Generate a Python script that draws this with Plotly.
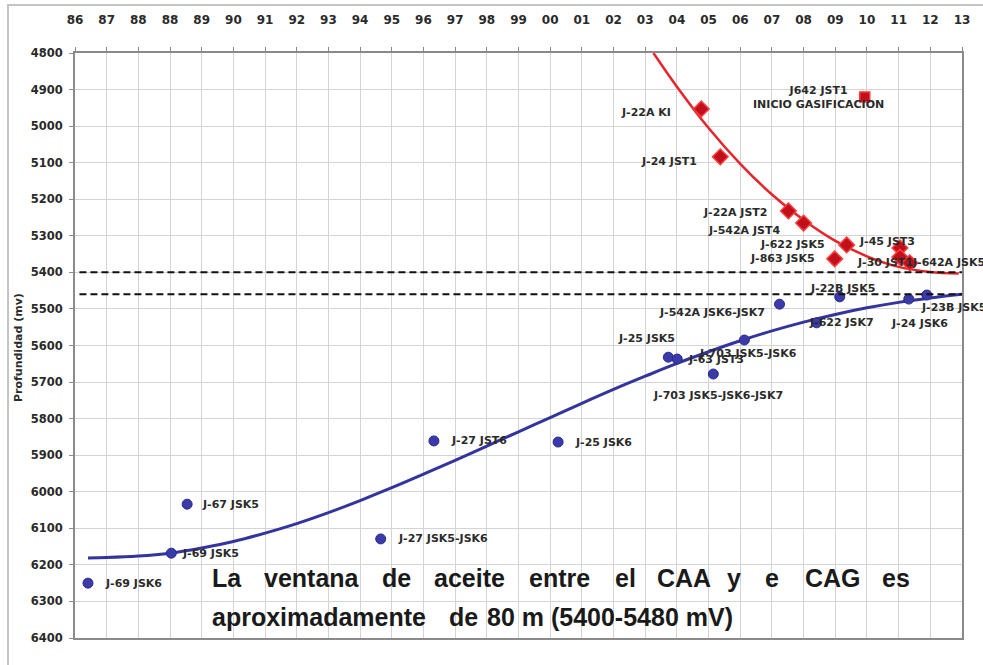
import plotly.graph_objects as go

# ---------------- data ----------------
tick_labels = ["86", "87", "88", "88", "89", "90", "91", "92", "93", "94", "95", "96", "97", "98",
               "99", "00", "01", "02", "03", "04", "05", "06", "07", "08", "09", "10", "11", "12", "13"]
y_ticks = list(range(4800, 6401, 100))

blue_names = ["J-69 JSK6", "J-69 JSK5", "J-67 JSK5", "J-27 JSK5-JSK6", "J-27 JST6", "J-25 JSK6",
              "J-25 JSK5", "J-63 JST3", "J-703 JSK5-JSK6", "J-703 JSK5-JSK6-JSK7",
              "J-542A JSK6-JSK7", "J-22B JSK5", "J-622 JSK7", "J-24 JSK6", "J-23B JSK5"]
blue_x = [0.41, 3.04, 3.54, 9.65, 11.33, 15.25, 18.73, 19.01, 21.13, 20.15, 22.24, 24.14, 23.41, 26.32, 26.89]
blue_y = [6250, 6168, 6034, 6129, 5861, 5864, 5632, 5637, 5585, 5678, 5487, 5467, 5538, 5473, 5462]

red_names = ["J-22A KI", "J-24 JST1", "J-22A JST2", "J-542A JST4", "J-622 JSK5", "J-863 JSK5",
             "J-45 JST3", "J-30 JST1", "J-642A JSK5-JSK6"]
red_x = [19.77, 20.37, 22.52, 23.0, 24.36, 23.98, 26.04, 26.04, 26.35]
red_y = [4953, 5084, 5232, 5265, 5325, 5363, 5333, 5358, 5374]

gas_name = ["J642 JST1<br>INICIO GASIFICACION"]
gas_x = [24.93]
gas_y = [4920]

blue_trend_x = [0.41, 1, 2, 3, 4, 5, 6, 7, 8, 9, 10, 11, 12, 13, 14, 15, 16, 17, 18, 19, 20,
                21, 22, 23, 24, 25, 26, 27, 28]
blue_trend_y = [6181, 6180, 6176, 6168, 6154, 6136, 6113, 6087, 6057, 6024, 5989, 5952, 5914,
                5875, 5836, 5797, 5758, 5720, 5684, 5649, 5617, 5587, 5560, 5536, 5515, 5497,
                5482, 5470, 5460]

red_trend_x = [18.26, 19, 20, 21, 22, 23, 24, 25, 26, 27, 27.9]
red_trend_y = [4800, 4892, 5005, 5103, 5187, 5257, 5314, 5356, 5385, 5399, 5403]

caa_level = 5400
cag_level = 5460

# label offsets (pixels): (xanchor, xshift, yshift)
blue_label_pos = [("left", 15, 0), ("left", 9, 0), ("left", 13, 0), ("left", 15, 0), ("left", 15, 0),
                  ("left", 15, 0), ("center", -22, 19), ("left", 9, 0), ("center", 4, -13),
                  ("center", 5, -21), ("right", -13, -8), ("center", 3, 8), ("left", -10, 0),
                  ("center", 11, -24), ("left", -8, -12)]
red_label_pos = [("right", -28, -4), ("right", -21, -5), ("right", -19, -2), ("right", -22, -7),
                 ("right", -20, 0), ("right", -18, 0), ("left", -43, 6), ("left", -45, -5),
                 ("left", 0, 0)]
gas_label_pos = [("center", -46, -1)]

line1_words = ["La", "ventana", "de", "aceite", "entre", "el", "CAA", "y", "e", "CAG", "es"]
line1_px = [210, 262, 380, 432, 527, 613, 655, 725, 763, 803, 880]
line2_words = ["aproximadamente", "de", "80 m (5400-5480 mV)"]
line2_px = [210, 447, 485]

# ---------------- layout geometry ----------------
W, H = 983, 665
L, R, T, B = 75, 21, 53, 27
PW, PH = W - L - R, H - T - B


def px_x(px):
    return (px - L) / PW


def px_y(py):
    return (H - B - py) / PH


BLUE = "#34349e"
RED_LINE = "#e8242a"
RED_FILL = "#c0101c"
LABEL_FONT = dict(family="DejaVu Sans", size=11, color="#2a2a2a", weight="bold")

fig = go.Figure()

fig.add_trace(go.Scatter(x=blue_trend_x, y=blue_trend_y, mode="lines", line_shape="spline",
                         line=dict(color=BLUE, width=3), hoverinfo="skip", showlegend=False))
fig.add_trace(go.Scatter(x=red_trend_x, y=red_trend_y, mode="lines", line_shape="spline",
                         line=dict(color=RED_LINE, width=2.5), hoverinfo="skip", showlegend=False))

fig.add_trace(go.Scatter(x=blue_x, y=blue_y, mode="markers", text=blue_names,
                         marker=dict(symbol="circle", size=10, color="#3a3aa8",
                                     line=dict(color="#2a2a90", width=1)),
                         showlegend=False))
fig.add_trace(go.Scatter(x=red_x, y=red_y, mode="markers", text=red_names,
                         marker=dict(symbol="diamond", size=12, color=RED_FILL,
                                     line=dict(color="#ff3a3a", width=1.5)),
                         showlegend=False))
fig.add_trace(go.Scatter(x=gas_x, y=gas_y, mode="markers", text=gas_name,
                         marker=dict(symbol="square", size=10, color=RED_FILL,
                                     line=dict(color="#ff3a3a", width=1.5)),
                         showlegend=False))

annotations = []
for names, xs, ys, pos in [(blue_names, blue_x, blue_y, blue_label_pos),
                           (red_names, red_x, red_y, red_label_pos),
                           (gas_name, gas_x, gas_y, gas_label_pos)]:
    for n, x, y, (anc, dx, dy) in zip(names, xs, ys, pos):
        annotations.append(dict(x=x, y=y, xref="x", yref="y", text=n, showarrow=False,
                                xanchor=anc, yanchor="middle", xshift=dx, yshift=dy,
                                font=LABEL_FONT))

BIG_FONT = dict(family="Liberation Sans", size=25, color="#1a1a1a", weight="bold")
for w, px in zip(line1_words, line1_px):
    annotations.append(dict(x=px_x(px), y=px_y(578), xref="paper", yref="paper", text=w,
                            showarrow=False, xanchor="left", yanchor="middle", font=BIG_FONT))
for w, px in zip(line2_words, line2_px):
    annotations.append(dict(x=px_x(px), y=px_y(617), xref="paper", yref="paper", text=w,
                            showarrow=False, xanchor="left", yanchor="middle", font=BIG_FONT))

annotations.append(dict(x=px_x(18), y=px_y(348), xref="paper", yref="paper",
                        text="Profundidad (mv)", textangle=-90, showarrow=False,
                        xanchor="center", yanchor="middle",
                        font=dict(family="DejaVu Sans", size=11, color="#2a2a2a", weight="bold")))

shapes = []
for lvl in (caa_level, cag_level):
    shapes.append(dict(type="line", xref="paper", yref="y", x0=0.005, x1=1, y0=lvl, y1=lvl,
                       line=dict(color="#111111", width=2, dash="7px,4px"), layer="above"))
shapes.append(dict(type="rect", xref="paper", yref="paper", x0=px_x(8), x1=px_x(1000),
                   y0=px_y(700), y1=px_y(5), line=dict(color="#c4c4c4", width=2), layer="below"))

fig.update_layout(
    width=W, height=H,
    margin=dict(l=L, r=R, t=T, b=B, autoexpand=False),
    paper_bgcolor="white", plot_bgcolor="white",
    annotations=annotations, shapes=shapes,
    xaxis=dict(range=[0, len(tick_labels) - 1], tickvals=list(range(len(tick_labels))),
               ticktext=tick_labels, side="top", showgrid=True, gridcolor="#d4d4d4", gridwidth=1,
               showline=True, linecolor="#8a8a8a", linewidth=2, mirror=True,
               ticks="outside", ticklen=4, tickcolor="#8a8a8a", ticklabelstandoff=18,
               tickfont=dict(family="DejaVu Sans", size=12, color="#2a2a2a", weight="bold"),
               zeroline=False, fixedrange=True, automargin=False),
    yaxis=dict(range=[y_ticks[-1], y_ticks[0]], tickvals=y_ticks,
               ticktext=[str(v) for v in y_ticks], showgrid=True, gridcolor="#d4d4d4", gridwidth=1,
               showline=True, linecolor="#8a8a8a", linewidth=2, mirror=True,
               ticks="outside", ticklen=4, tickcolor="#8a8a8a", ticklabelstandoff=4,
               tickfont=dict(family="DejaVu Sans", size=11.5, color="#2a2a2a", weight="bold"),
               zeroline=False, fixedrange=True, automargin=False),
)

fig.write_html("out.html", config={"displayModeBar": False},
               post_script="document.body.style.margin='0px';document.body.style.padding='0px';")
